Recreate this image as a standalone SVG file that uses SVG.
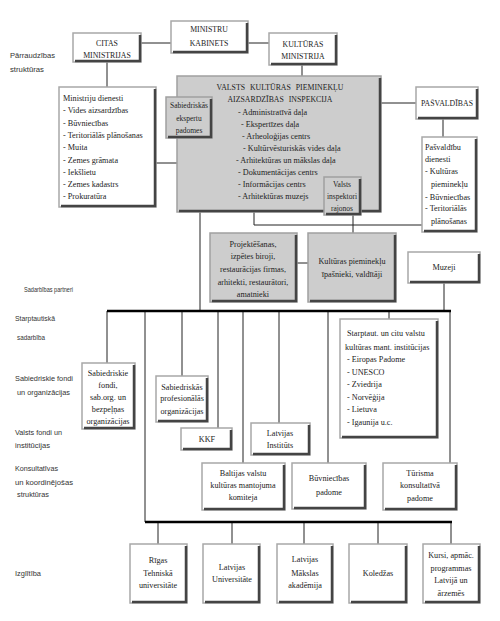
<svg xmlns="http://www.w3.org/2000/svg" width="500" height="621" viewBox="0 0 500 621">
<style>
.w{fill:#fff;stroke:#a8a8a8;stroke-width:1.5}
.g{fill:#cdcdcd;stroke:#a0a0a0;stroke-width:1.5}
.sh{fill:none;stroke:#444;stroke-width:2.5}
.t{font-family:"Liberation Serif",serif;font-size:8.2px;fill:#222}
.s{font-size:7.5px}
.u{font-family:"Liberation Serif",serif;font-size:7.8px;fill:#222}
.c{text-anchor:middle}
.l{font-family:"Liberation Sans",sans-serif;font-size:7.5px;fill:#333}
.ln{stroke:#222;stroke-width:1;fill:none}
.bar{stroke:#000;stroke-width:2.5;fill:none}
</style>
<rect width="500" height="621" fill="#fff"/>
<g id="labels" class="l">
<text x="10" y="58" textLength="45" lengthAdjust="spacingAndGlyphs">Pārraudzības</text>
<text x="10" y="72" textLength="34" lengthAdjust="spacingAndGlyphs">struktūras</text>
<text x="24" y="292" textLength="49" lengthAdjust="spacingAndGlyphs">Sadarbības partneri</text>
<text x="15" y="321" textLength="40" lengthAdjust="spacingAndGlyphs">Starptautiskā</text>
<text x="17" y="340" textLength="28" lengthAdjust="spacingAndGlyphs">sadarbība</text>
<text x="15" y="381" textLength="58" lengthAdjust="spacingAndGlyphs">Sabiedriskie fondi</text>
<text x="17" y="395" textLength="53" lengthAdjust="spacingAndGlyphs">un organizācijas</text>
<text x="15" y="435" textLength="47" lengthAdjust="spacingAndGlyphs">Valsts fondi un</text>
<text x="15" y="448" textLength="35" lengthAdjust="spacingAndGlyphs">institūcijas</text>
<text x="15" y="471" textLength="43" lengthAdjust="spacingAndGlyphs">Konsultatīvas</text>
<text x="15" y="485" textLength="58" lengthAdjust="spacingAndGlyphs">un koordinējošas</text>
<text x="17" y="497" textLength="32" lengthAdjust="spacingAndGlyphs">struktūras</text>
<text x="15" y="576" textLength="26" lengthAdjust="spacingAndGlyphs">Izglītība</text>
</g>
<g id="connectors">
<path class="ln" d="M107 62V87M141 43H171M248 43H269M302 65V76M156 163H177M381 103H416M443 119V137M200 212V311M254 212V225H422M353 215V233M297 263H308M444 283V311"/>
<path class="ln" d="M107 311V363M145 311V522M182 311V376M218 311V428M243 311V463M279 311V423M328 311V463M389 311V319M450 311V463"/>
<path class="ln" d="M158 522V544M232 522V544M304 522V544M378 522V544M451 522V544"/>
<path class="bar" d="M107 311H451M145 522H452"/>
</g>
<g id="citas"><rect class="w" x="73" y="33" width="68" height="29"/><path class="sh" d="M140 35V61H75"/>
<text class="u c" x="107" y="46">CITAS</text><text class="u c" x="107" y="58">MINISTRIJAS</text></g>
<g id="mk"><rect class="w" x="171" y="21" width="77" height="32"/><path class="sh" d="M247 23V52H173"/>
<text class="u c" x="209" y="32">MINISTRU</text><text class="u c" x="209" y="46">KABINETS</text></g>
<g id="km"><rect class="w" x="269" y="33" width="68" height="32"/><path class="sh" d="M336 35V64H271"/>
<text class="u c" x="303" y="47">KULTŪRAS</text><text class="u c" x="303" y="59">MINISTRIJA</text></g>
<g id="md"><rect class="w" x="59" y="87" width="97" height="120"/><path class="sh" d="M155 89V206H61"/>
<text class="t" x="63" y="101">Ministriju dienesti</text>
<text class="t" x="63" y="113">- Vides  aizsardzības</text>
<text class="t" x="63" y="126">- Būvniecības</text>
<text class="t" x="63" y="138">- Teritoriālās  plānošanas</text>
<text class="t" x="63" y="150">- Muita</text>
<text class="t" x="63" y="163">- Zemes grāmata</text>
<text class="t" x="63" y="175">- Iekšlietu</text>
<text class="t" x="63" y="187">- Zemes kadastrs</text>
<text class="t" x="63" y="199">- Prokuratūra</text></g>
<g id="vkpai"><rect class="g" x="177" y="76" width="204" height="136"/><path class="sh" d="M380 78V211H179"/>
<text class="u c" x="280" y="90" word-spacing="3">VALSTS KULTŪRAS PIEMINEKĻU</text>
<text class="u c" x="280" y="102" word-spacing="3">AIZSARDZĪBAS INSPEKCIJA</text>
<text class="t" x="238" y="115">- Administratīvā daļa</text>
<text class="t" x="241" y="127">-  Ekspertīzes daļa</text>
<text class="t" x="242" y="139">-  Arheoloģijas centrs</text>
<text class="t" x="243" y="151">-  Kultūrvēsturiskās vides daļa</text>
<text class="t" x="236" y="163">- Arhitektūras un mākslas daļa</text>
<text class="t" x="238" y="175">- Dokumentācijas centrs</text>
<text class="t" x="238" y="187">- Informācijas  centrs</text>
<text class="t" x="238" y="199">- Arhitektūras  muzejs</text></g>
<g id="sep"><rect class="g" x="166" y="97" width="46" height="41"/><path class="sh" d="M211 99V137H168"/>
<text class="t s c" x="189" y="108">Sabiedriskās</text><text class="t s c" x="189" y="121">ekspertu</text><text class="t s c" x="189" y="133">padomes</text></g>
<g id="vir"><rect class="g" x="324" y="177" width="37" height="38"/><path class="sh" d="M360 179V214H326"/>
<text class="t s c" x="342" y="187">Valsts</text><text class="t s c" x="342" y="199">inspektori</text><text class="t s c" x="342" y="211">rajonos</text></g>
<g id="pasv"><rect class="w" x="416" y="87" width="62" height="32"/><path class="sh" d="M477 89V118H418"/>
<text class="u c" x="447" y="106">PAŠVALDĪBAS</text></g>
<g id="pd"><rect class="w" x="422" y="137" width="55" height="95"/><path class="sh" d="M476 139V231H424"/>
<text class="t" x="425" y="150">Pašvaldību</text>
<text class="t" x="425" y="162">dienesti</text>
<text class="t" x="425" y="174">- Kultūras</text>
<text class="t" x="431" y="187">pieminekļu</text>
<text class="t" x="425" y="200">- Būvniecības</text>
<text class="t" x="425" y="211">- Teritoriālās</text>
<text class="t" x="431" y="224">plānošanas</text></g>
<g id="proj"><rect class="g" x="210" y="233" width="87" height="69"/><path class="sh" d="M296 235V301H212"/>
<text class="t c" x="253" y="247">Projektēšanas,</text>
<text class="t c" x="253" y="259">izpētes biroji,</text>
<text class="t c" x="253" y="272">restaurācijas firmas,</text>
<text class="t c" x="253" y="285">arhitekti, restaurātori,</text>
<text class="t c" x="253" y="297">amatnieki</text></g>
<g id="kpi"><rect class="g" x="308" y="233" width="88" height="69"/><path class="sh" d="M395 235V301H310"/>
<text class="t c" x="352" y="264">Kultūras  pieminekļu</text>
<text class="t c" x="352" y="277">īpašnieki, valdītāji</text></g>
<g id="muz"><rect class="w" x="408" y="252" width="72" height="31"/><path class="sh" d="M479 254V282H410"/>
<text class="t c" x="444" y="270">Muzeji</text></g>
<g id="sf"><rect class="w" x="82" y="363" width="53" height="66"/><path class="sh" d="M134 365V428H84"/>
<text class="t c" x="108" y="376">Sabiedriskie</text>
<text class="t c" x="108" y="388">fondi,</text>
<text class="t c" x="108" y="400">sab.org. un</text>
<text class="t c" x="108" y="412">bezpeļņas</text>
<text class="t c" x="108" y="424">organizācijas</text></g>
<g id="spo"><rect class="w" x="156" y="376" width="52" height="46"/><path class="sh" d="M207 378V421H158"/>
<text class="t c" x="182" y="390">Sabiedriskās</text>
<text class="t c" x="182" y="401">profesionālās</text>
<text class="t c" x="182" y="414">organizācijas</text></g>
<g id="kkf"><rect class="w" x="181" y="428" width="51" height="22"/><path class="sh" d="M231 430V449H183"/>
<text class="t c" x="207" y="442">KKF</text></g>
<g id="li"><rect class="w" x="251" y="423" width="59" height="32"/><path class="sh" d="M309 425V454H253"/>
<text class="t c" x="280" y="436">Latvijas</text>
<text class="t c" x="280" y="448">Institūts</text></g>
<g id="sv"><rect class="w" x="340" y="319" width="98" height="119"/><path class="sh" d="M437 321V437H342"/>
<text class="t" x="347" y="336">Starptaut. un citu valstu</text>
<text class="t" x="345" y="350">kultūras mant. institūcijas</text>
<text class="t" x="347" y="362">- Eiropas Padome</text>
<text class="t" x="347" y="375">- UNESCO</text>
<text class="t" x="347" y="387">- Zviedrija</text>
<text class="t" x="347" y="400">- Norvēģija</text>
<text class="t" x="347" y="412">- Lietuva</text>
<text class="t" x="347" y="425">- Igaunija u.c.</text></g>
<g id="bvk"><rect class="w" x="202" y="463" width="83" height="47"/><path class="sh" d="M284 465V509H204"/>
<text class="t c" x="243" y="476">Baltijas valstu</text>
<text class="t c" x="243" y="488">kultūras mantojuma</text>
<text class="t c" x="243" y="500">komiteja</text></g>
<g id="bp"><rect class="w" x="292" y="463" width="74" height="46"/><path class="sh" d="M365 465V508H294"/>
<text class="t c" x="329" y="481">Būvniecības</text>
<text class="t c" x="329" y="495">padome</text></g>
<g id="tkp"><rect class="w" x="383" y="463" width="74" height="47"/><path class="sh" d="M456 465V509H385"/>
<text class="t c" x="420" y="476">Tūrisma</text>
<text class="t c" x="420" y="488">konsultatīvā</text>
<text class="t c" x="420" y="501">padome</text></g>
<g id="rtu"><rect class="w" x="130" y="544" width="57" height="59"/><path class="sh" d="M186 546V602H132"/>
<text class="t c" x="158" y="563">Rīgas</text>
<text class="t c" x="158" y="576">Tehniskā</text>
<text class="t c" x="158" y="588">universitāte</text></g>
<g id="lu"><rect class="w" x="203" y="544" width="57" height="59"/><path class="sh" d="M259 546V602H205"/>
<text class="t c" x="232" y="570">Latvijas</text>
<text class="t c" x="232" y="582">Universitāte</text></g>
<g id="lma"><rect class="w" x="277" y="544" width="56" height="59"/><path class="sh" d="M332 546V602H279"/>
<text class="t c" x="305" y="562">Latvijas</text>
<text class="t c" x="305" y="576">Mākslas</text>
<text class="t c" x="305" y="588">akadēmija</text></g>
<g id="kol"><rect class="w" x="349" y="544" width="58" height="59"/><path class="sh" d="M406 546V602H351"/>
<text class="t c" x="378" y="576">Koledžas</text></g>
<g id="kursi"><rect class="w" x="423" y="544" width="57" height="59"/><path class="sh" d="M479 546V602H425"/>
<text class="t c" x="451" y="558">Kursi, apmāc.</text>
<text class="t c" x="451" y="571">programmas</text>
<text class="t c" x="451" y="583">Latvijā un</text>
<text class="t c" x="451" y="596">ārzemēs</text></g>
</svg>
